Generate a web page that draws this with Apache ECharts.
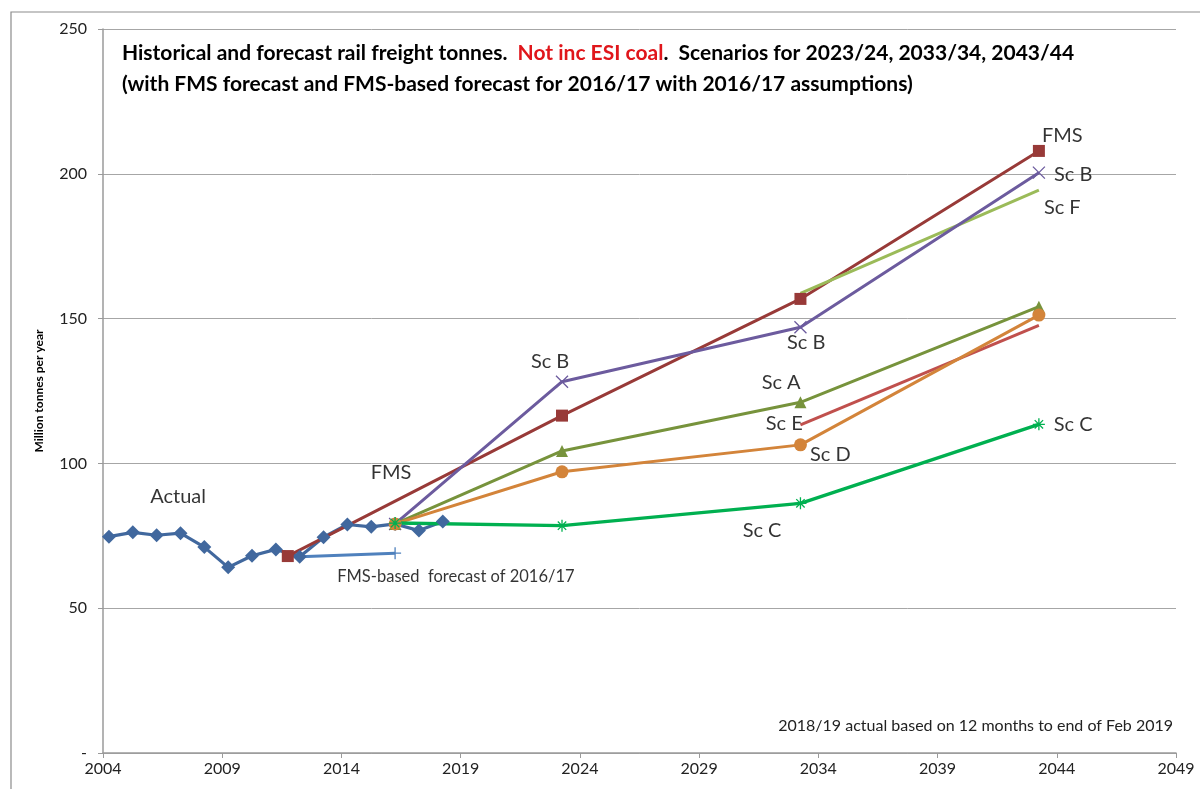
<!DOCTYPE html>
<html>
<head>
<meta charset="utf-8">
<script src="https://cdn.jsdelivr.net/npm/echarts@6/dist/echarts.min.js"></script>
<style>
  html, body { margin: 0; padding: 0; background: #fff; }
  #chart { width: 1200px; height: 789px; }
</style>
</head>
<body>
<div id="chart"></div>
<script>
// x values are years; the axis runs 2004..2049 so shift by X0 to keep ticks on 5-year steps
const X0 = 2004;
const xTicks = { min: 0, max: 45, interval: 5 };
const yTicks = { min: 0, max: 250, interval: 50 };

const actualYears = [2004.25, 2005.25, 2006.25, 2007.25, 2008.25, 2009.25, 2010.25, 2011.25,
  2012.25, 2013.25, 2014.25, 2015.25, 2016.25, 2017.25, 2018.25];
const actualValues = [74.7, 76.2, 75.2, 75.9, 71.1, 64.1, 68.1, 70.3, 67.8, 74.5, 78.9, 78.1, 79.1, 76.8, 79.9];

const fmsBasedYears = [2012.25, 2016.25];
const fmsBasedValues = [67.8, 69.0];

const fmsYears = [2011.75, 2023.25, 2033.25, 2043.25];
const fmsValues = [68.0, 116.5, 156.8, 207.9];

const scenarioYears = [2016.25, 2023.25, 2033.25, 2043.25];
const scBValues = [79.1, 128.2, 147.0, 200.4];
const scAValues = [79.1, 104.3, 121.1, 154.1];
const scDValues = [79.1, 97.1, 106.4, 151.2];
const scCValues = [79.4, 78.5, 86.2, 113.5];

const lateYears = [2033.25, 2043.25];
const scEValues = [113.3, 147.7];
const scFValues = [158.7, 194.4];

// text annotations on the plot: [year, value, text]
const notes = [
  [2007.15, 88.4, 'Actual'],
  [2016.08, 96.7, 'FMS'],
  [2018.8, 61.0, 'FMS-based  forecast of 2016/17'],
  [2022.75, 135.0, 'Sc B'],
  [2032.44, 127.8, 'Sc A'],
  [2032.57, 113.6, 'Sc E'],
  [2034.5, 102.9, 'Sc D'],
  [2031.64, 76.7, 'Sc C'],
  [2033.49, 141.6, 'Sc B'],
  [2044.23, 213.1, 'FMS'],
  [2044.69, 199.6, 'Sc B'],
  [2044.23, 188.2, 'Sc F'],
  [2044.69, 113.3, 'Sc C']
];

const FONT = 'Lato, "Open Sans", sans-serif';
const pts = (xs, ys) => xs.map((x, i) => [x - X0, ys[i]]);

const crossPath = 'path://M0,0L10,10M10,0L0,10';
const starPath = 'path://M5,0L5,10M0,5L10,5M1.5,1.5L8.5,8.5M8.5,1.5L1.5,8.5';
const plusPath = 'path://M0,5L10,5M5,0L5,10';
const dashPath = 'path://M0,5L10,5';

function lineSeries(name, data, color, symbol, size, width, stroke) {
  return {
    name: name,
    type: 'line',
    data: data,
    symbol: symbol,
    symbolSize: size,
    showAllSymbol: true,
    lineStyle: { color: color, width: width },
    itemStyle: stroke
      ? { color: color, borderColor: color, borderWidth: 1.3 }
      : { color: color, borderWidth: 0 },
    silent: true,
    z: 3
  };
}

const chart = echarts.init(document.getElementById('chart'));

const fmsBasedData = pts(fmsBasedYears, fmsBasedValues).map((d, i) => ({
  value: d, symbol: i === fmsBasedYears.length - 1 ? plusPath : 'none'
}));

const option = {
  animation: false,
  textStyle: { fontFamily: FONT },
  grid: { left: 103, right: 24, top: 29, bottom: 36 },
  title: {
    left: 117, top: 33, itemGap: 0,
    text: '{b|Historical and forecast rail freight tonnes.  }{r|Not inc ESI coal}{b|.  Scenarios for 2023/24, 2033/34, 2043/44}\n' +
          '{b|(with FMS forecast and FMS-based forecast for 2016/17 with 2016/17 assumptions)}',
    textStyle: {
      rich: {
        b: { fontFamily: FONT, fontWeight: 'bold', fontSize: 21, color: '#000', lineHeight: 31 },
        r: { fontFamily: FONT, fontWeight: 'bold', fontSize: 21, color: '#E0161B', lineHeight: 31 }
      }
    }
  },
  xAxis: {
    type: 'value',
    min: xTicks.min, max: xTicks.max, interval: xTicks.interval,
    axisLine: { lineStyle: { color: '#9A9A9A', width: 1.5 } },
    axisTick: { show: true, length: 5, lineStyle: { color: '#9A9A9A' } },
    axisLabel: { formatter: v => String(v + X0), color: '#222', fontSize: 16, margin: 8, fontFamily: FONT },
    splitLine: { show: false }
  },
  yAxis: {
    type: 'value',
    min: yTicks.min, max: yTicks.max, interval: yTicks.interval,
    name: 'Million tonnes per year',
    nameLocation: 'middle', nameGap: 58, nameRotate: 90,
    nameTextStyle: { fontSize: 12, fontWeight: 'bold', color: '#000', fontFamily: FONT },
    axisLine: { show: true, lineStyle: { color: '#9A9A9A', width: 1.5 } },
    axisTick: { show: true, length: 5, lineStyle: { color: '#9A9A9A' } },
    axisLabel: { formatter: v => (v === 0 ? '-' : String(v)), color: '#222', fontSize: 16, margin: 16, fontFamily: FONT },
    splitLine: { lineStyle: { color: '#A6A6A6', width: 1 } }
  },
  graphic: [
    {
      type: 'rect', silent: true, z: -1,
      shape: { x: 11, y: 12, width: 1300, height: 900 },
      style: { fill: 'none', stroke: '#8C8C8C', lineWidth: 1.2 }
    },
    {
      type: 'text', silent: true, right: 27, top: 718,
      style: { text: '2018/19 actual based on 12 months to end of Feb 2019', font: '16px ' + FONT, fill: '#222' }
    }
  ],
  series: [
    lineSeries('Actual', pts(actualYears, actualValues), '#41689E', 'diamond', 14, 3.2, false),
    lineSeries('FMS-based forecast of 2016/17', fmsBasedData, '#4F81BD', 'none', 12, 3, true),
    lineSeries('FMS', pts(fmsYears, fmsValues), '#983A38', 'rect', 12, 3, false),
    lineSeries('Sc F', pts(lateYears, scFValues), '#9BBB59', dashPath, 11, 3, true),
    lineSeries('Sc B', pts(scenarioYears, scBValues), '#6C5B9E', crossPath, 12, 3, true),
    lineSeries('Sc E', pts(lateYears, scEValues), '#C0504D', dashPath, 9, 3, true),
    lineSeries('Sc A', pts(scenarioYears, scAValues), '#77933C', 'triangle', 12, 3, false),
    lineSeries('Sc D', pts(scenarioYears, scDValues), '#D3843A', 'circle', 13, 3, false),
    lineSeries('Sc C', pts(scenarioYears, scCValues), '#00B050', starPath, 12, 3.4, true),
    {
      name: 'notes',
      type: 'scatter',
      silent: true,
      symbolSize: 1,
      itemStyle: { color: 'rgba(0,0,0,0)' },
      z: 5,
      data: notes.map(n => ({
        value: [n[0] - X0, n[1]],
        name: n[2],
        label: n[2].length > 10 ? { fontSize: 16.5 } : {}
      })),
      label: {
        show: true, position: 'inside', formatter: '{b}',
        color: '#000', fontSize: 20, fontFamily: FONT
      }
    }
  ]
};

chart.setOption(option);
</script>
</body>
</html>
